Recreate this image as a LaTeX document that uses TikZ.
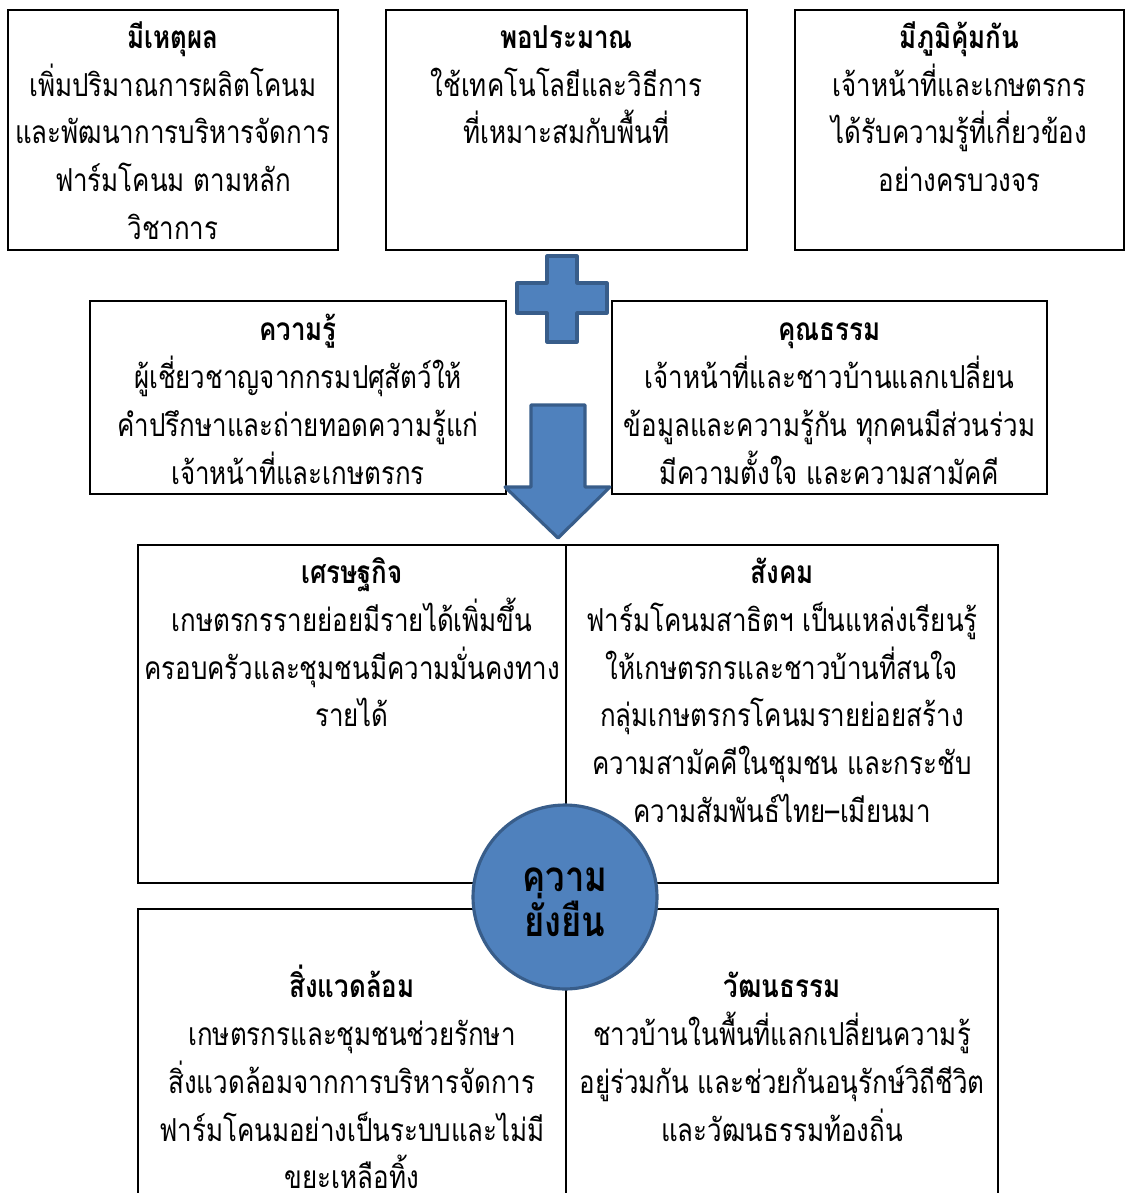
\documentclass[tikz,border=0pt]{standalone}
\usepackage{fontspec}
\newfontfamily\thaifont[Script=Thai, FakeStretch=0.82]{Loma}
\usetikzlibrary{positioning}
\definecolor{hubfill}{HTML}{4F81BD}
\definecolor{hubline}{HTML}{385D8A}
\newcommand{\firstline}{\rule{0pt}{22.3pt}}

\begin{document}
\begin{tikzpicture}[
  x=0.02cm, y=-0.02cm,
  box/.style={draw, line width=1.3pt, inner sep=0pt},
  txt/.style={align=center, inner sep=0pt, anchor=north,
    font=\thaifont\fontsize{18}{27.2}\selectfont},
  hub/.style={circle, draw=hubline, fill=hubfill, line width=1.8pt,
    minimum size=3.68cm, inner sep=0pt},
  hubtext/.style={align=center, inner sep=0pt,
    font=\thaifont\bfseries\fontsize{24}{25.5}\selectfont},
  blockshape/.style={draw=hubline, fill=hubfill, line width=1.8pt, line join=round}
]
  \useasboundingbox (0,0) rectangle (1125,1193);

  % three principles
  \node[box, minimum width=6.6cm, minimum height=4.8cm] (rat) at (173,130) {};
  \node[box, minimum width=7.22cm, minimum height=4.8cm] (mod) at (566.5,130) {};
  \node[box, minimum width=6.58cm, minimum height=4.8cm] (imm) at (959.5,130) {};

  \node[txt] (rat-t) at (rat.north) {\firstline\textbf{มีเหตุผล}\\เพิ่มปริมาณการผลิตโคนม\\และพัฒนาการบริหารจัดการ\\ฟาร์มโคนม ตามหลัก\\วิชาการ};
  \node[txt] (mod-t) at (mod.north) {\firstline\textbf{พอประมาณ}\\ใช้เทคโนโลยีและวิธีการ\\ที่เหมาะสมกับพื้นที่};
  \node[txt] (imm-t) at (imm.north) {\firstline\textbf{มีภูมิคุ้มกัน}\\เจ้าหน้าที่และเกษตรกร\\ได้รับความรู้ที่เกี่ยวข้อง\\อย่างครบวงจร};

  % two conditions
  \node[box, minimum width=8.32cm, minimum height=3.86cm] (know) at (298,397.5) {};
  \node[box, minimum width=8.7cm, minimum height=3.86cm] (virt) at (829.5,397.5) {};

  \node[txt, yshift=-0.9pt] (know-t) at (know.north) {\firstline\textbf{ความรู้}\\ผู้เชี่ยวชาญจากกรมปศุสัตว์ให้\\คำปรึกษาและถ่ายทอดความรู้แก่\\เจ้าหน้าที่และเกษตรกร};
  \node[txt, yshift=-0.9pt] (virt-t) at (virt.north) {\firstline\textbf{คุณธรรม}\\เจ้าหน้าที่และชาวบ้านแลกเปลี่ยน\\ข้อมูลและความรู้กัน ทุกคนมีส่วนร่วม\\มีความตั้งใจ และความสามัคคี};

  % four outcomes
  \node[box, minimum width=8.56cm, minimum height=6.76cm] (econ) at (352,714) {};
  \node[box, minimum width=8.64cm, minimum height=6.76cm] (soc) at (782,714) {};
  \node[box, minimum width=8.56cm, minimum height=6.02cm] (env) at (352,1059.5) {};
  \node[box, minimum width=8.64cm, minimum height=6.02cm] (cult) at (782,1059.5) {};

  \node[txt] (econ-t) at (econ.north) {\firstline\textbf{เศรษฐกิจ}\\เกษตรกรรายย่อยมีรายได้เพิ่มขึ้น\\ครอบครัวและชุมชนมีความมั่นคงทาง\\รายได้};
  \node[txt] (soc-t) at (soc.north) {\firstline\textbf{สังคม}\\ฟาร์มโคนมสาธิตฯ เป็นแหล่งเรียนรู้\\ให้เกษตรกรและชาวบ้านที่สนใจ\\กลุ่มเกษตรกรโคนมรายย่อยสร้าง\\ความสามัคคีในชุมชน และกระชับ\\ความสัมพันธ์ไทย–เมียนมา};
  \node[txt, yshift=-28.6pt] (env-t) at (env.north) {\firstline\textbf{สิ่งแวดล้อม}\\เกษตรกรและชุมชนช่วยรักษา\\สิ่งแวดล้อมจากการบริหารจัดการ\\ฟาร์มโคนมอย่างเป็นระบบและไม่มี\\ขยะเหลือทิ้ง};
  \node[txt, yshift=-28.6pt] (cult-t) at (cult.north) {\firstline\textbf{วัฒนธรรม}\\ชาวบ้านในพื้นที่แลกเปลี่ยนความรู้\\อยู่ร่วมกัน และช่วยกันอนุรักษ์วิถีชีวิต\\และวัฒนธรรมท้องถิ่น};

  % plus and down arrow
  \draw[blockshape] (547,256) -- (577,256) -- (577,283) -- (607,283) -- (607,313)
    -- (577,313) -- (577,342) -- (547,342) -- (547,313) -- (517,313)
    -- (517,283) -- (547,283) -- cycle;
  \draw[blockshape] (531,405) -- (585,405) -- (585,487) -- (610,487) -- (558,538)
    -- (505,487) -- (531,487) -- cycle;

  \node[hub] (hub) at (565,897) {};
  \node[hubtext, yshift=-3pt] (hub-t) at (hub.center) {ความ\\ยั่งยืน};
\end{tikzpicture}
\end{document}
